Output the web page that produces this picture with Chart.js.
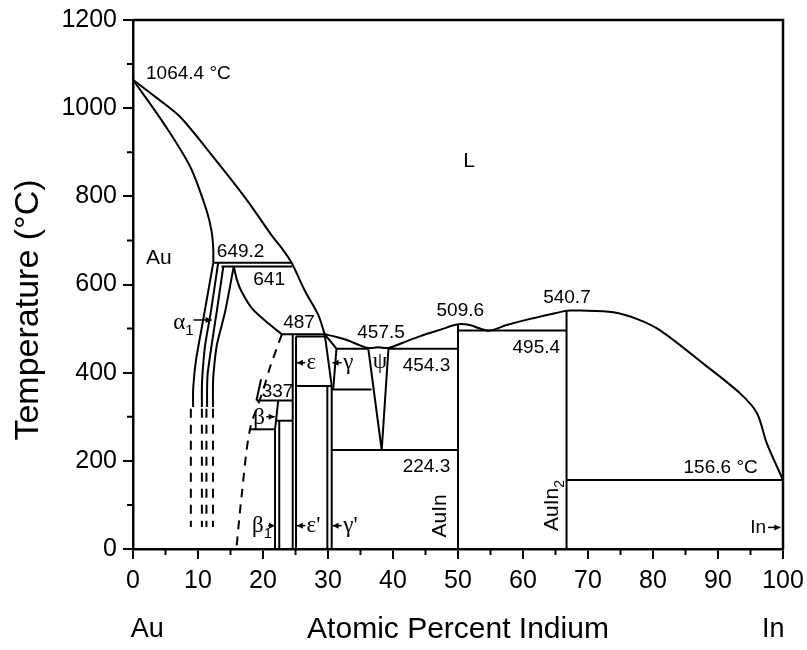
<!DOCTYPE html>
<html>
<head>
<meta charset="utf-8">
<title>Au-In phase diagram</title>
<script src="https://cdn.jsdelivr.net/npm/chart.js@4.4.0/dist/chart.umd.min.js"></script>
<style>
  html, body { margin: 0; padding: 0; background: #fff; }
  #wrap { width: 807px; height: 650px; }
</style>
</head>
<body>
<div id="wrap"><canvas id="phaseChart" width="807" height="650"></canvas></div>
<script>
// all points are [at.% In, temperature °C]
const liquidusAu = [[0,1064.4],[3.5,1025],[7.2,981],[12.3,890],[17.5,792],[21.3,712],[23.1,678],[24.4,649.2],[26.5,584],[28.5,531],[29.5,487]];
const liquidusMid = [[29.5,487],[31.3,481],[32.9,474],[34.4,465],[36.2,456],[37.7,457.5],[39.3,456],[41.5,468],[44.2,483],[47.2,497],[50,509.6],[51.8,508],[53.6,499],[54.9,495.4],[57.5,508],[61.1,522],[66.7,540.7]];
const liquidusIn = [[66.7,540.7],[68.8,541],[73.9,537],[77.5,522],[81.1,496],[87.7,421],[93.4,353],[96,308],[97.5,240],[100,156.6]];
const solidusAu = [[0,1064.4],[4.7,966],[8.8,867],[11.3,769],[12.1,720],[12.35,680],[12.35,649.2]];

const alphaLine1 = [[12.35,649.2],[10.8,520],[9.7,429],[9.25,361],[9.25,322]];
const alphaLine2 = [[13.1,649.2],[12.0,540],[11.1,463],[10.7,400],[10.6,367],[10.6,322]];
const alphaLine3 = [[13.9,641],[12.9,540],[12.1,463],[11.5,400],[11.4,367],[11.4,322]];
const alphaLine4 = [[15.5,641],[14.2,540],[12.9,463],[12.4,400],[12.3,367],[12.3,322]];
const alphaDashed = [[[8.9,318],[8.9,50]],[[10.6,318],[10.6,50]],[[11.3,318],[11.3,50]],[[12.3,318],[12.3,50]]];
const alphaBetaCurve = [[15.5,641],[16.0,610],[16.7,584],[18.3,546],[20.8,512],[22.9,487]];
const betaSolvus = [[22.9,487],[21.1,413],[20.05,361],[18.0,271.5],[16.7,119],[15.9,0]];

const isotherms = [
  [[12.35,649.2],[24.4,649.2]],
  [[13.6,641],[24.5,641]],
  [[22.9,487],[29.5,487]],
  [[25.08,482],[29.6,482]],
  [[19.0,337],[24.57,337]],
  [[22.0,291],[24.57,291]],
  [[18.0,271.5],[21.85,271.5]],
  [[25.08,370],[30.57,370]],
  [[31.3,454.3],[36.2,454.3]],
  [[30.57,362],[36.7,362]],
  [[39.3,454.3],[50,454.3]],
  [[30.57,224.3],[50,224.3]],
  [[50,495.4],[66.7,495.4]],
  [[66.7,156.6],[100,156.6]]
];
const compounds = [
  [[21.85,271.5],[21.85,0]],
  [[22.5,291],[22.5,0]],
  [[24.57,487],[24.57,0]],
  [[25.08,482],[25.08,0]],
  [[29.9,370],[29.9,0]],
  [[30.57,370],[30.57,0]],
  [[50,509.6],[50,0]],
  [[66.7,540.7],[66.7,0]]
];
const otherBounds = [
  [[19.0,337],[19.7,385]],
  [[22.35,337],[21.85,271.5]],
  [[29.5,487],[30.57,370]],
  [[29.5,487],[31.3,454.3]],
  [[31.3,454.3],[30.8,362]],
  [[36.2,454.3],[38.26,224.3],[39.3,454.3]]
];

// axis ticks: labelled majors, unlabelled minors
const xMinorTicks = [5, 15, 25, 35, 45, 55, 65, 75, 85, 95];
const yMinorTicks = [100, 300, 500, 700, 900, 1100];

// text on the diagram
const valueLabels = [
  ['1064.4 °C', 2.0, 1077, 'left'],
  ['649.2', 12.9, 674, 'left'],
  ['641', 18.5, 610, 'left'],
  ['487', 23.1, 513, 'left'],
  ['337', 19.8, 357, 'left'],
  ['457.5', 34.5, 490, 'left'],
  ['454.3', 48.8, 415, 'right'],
  ['224.3', 48.8, 186, 'right'],
  ['509.6', 46.7, 540, 'left'],
  ['540.7', 63.1, 570, 'left'],
  ['495.4', 65.7, 456, 'right'],
  ['156.6 °C', 84.7, 185, 'left'],
  ['In', 97.4, 49, 'right']
];
const phaseLabels = [
  ['L', 50.8, 880],
  ['Au', 2.0, 660]
];
const greekLabels = [
  ['α', '1', 6.2, 512],
  ['β', '', 18.5, 298],
  ['β', '1', 18.3, 52],
  ['ε', '', 26.7, 423],
  ['γ', '', 32.35, 423],
  ['ε\'', '', 26.7, 52],
  ['γ\'', '', 32.35, 52],
  ['ψ', '', 36.9, 424]
];
const arrows = [
  [9.3, 519.5, 12.1, 519.5],
  [20.5, 300, 21.8, 300],
  [20.8, 53, 21.85, 53],
  [26.5, 422.6, 25.2, 422.6],
  [32.1, 422.6, 30.7, 422.6],
  [26.5, 53, 25.2, 53],
  [32.1, 53, 30.7, 53],
  [97.7, 49, 99.6, 49]
];
const compoundLabels = [
  ['AuIn', '', 47.2, 75],
  ['AuIn', '2', 64.5, 90]
];

const SANS = '"Liberation Sans", Arial, sans-serif';
const SERIF = '"Liberation Serif", "DejaVu Serif", serif';

function lineSet(points, opts) {
  opts = opts || {};
  return {
    data: points.map(p => ({ x: p[0], y: p[1] })),
    showLine: true,
    borderColor: '#000',
    borderWidth: opts.width || 2,
    borderDash: opts.dash || [],
    pointRadius: 0,
    fill: false,
    tension: opts.tension || 0,
    clip: 4
  };
}

const datasets = [];
[liquidusAu, liquidusMid, liquidusIn, solidusAu, alphaBetaCurve].forEach(d => datasets.push(lineSet(d, { tension: 0.3 })));
[alphaLine1, alphaLine2, alphaLine3, alphaLine4].forEach(d => datasets.push(lineSet(d, { tension: 0.2 })));
alphaDashed.forEach(d => datasets.push(lineSet(d, { dash: [9, 7] })));
datasets.push(lineSet(betaSolvus, { dash: [9, 7], tension: 0.3 }));
isotherms.forEach(d => datasets.push(lineSet(d)));
compounds.forEach(d => datasets.push(lineSet(d)));
otherBounds.forEach(d => datasets.push(lineSet(d)));

const overlayPlugin = {
  id: 'overlay',
  afterDraw(chart) {
    const ctx = chart.ctx;
    const xs = chart.scales.x, ys = chart.scales.y;
    const area = chart.chartArea;
    const px = v => xs.getPixelForValue(v);
    const py = v => ys.getPixelForValue(v);

    ctx.save();
    ctx.strokeStyle = '#000';
    ctx.fillStyle = '#000';
    ctx.lineWidth = 2.5;
    ctx.beginPath();
    ctx.moveTo(area.left, area.top);
    ctx.lineTo(area.right, area.top);
    ctx.lineTo(area.right, area.bottom);
    ctx.stroke();

    // minor ticks
    ctx.lineWidth = 2;
    ctx.beginPath();
    xMinorTicks.forEach(v => { ctx.moveTo(px(v), area.bottom); ctx.lineTo(px(v), area.bottom + 6); });
    yMinorTicks.forEach(v => { ctx.moveTo(area.left, py(v)); ctx.lineTo(area.left - 6, py(v)); });
    ctx.stroke();

    ctx.textBaseline = 'middle';
    ctx.font = '19px ' + SANS;
    valueLabels.forEach(l => {
      ctx.textAlign = l[3];
      ctx.fillText(l[0], px(l[1]), py(l[2]));
    });
    ctx.font = '21px ' + SANS;
    ctx.textAlign = 'left';
    phaseLabels.forEach(l => ctx.fillText(l[0], px(l[1]), py(l[2])));

    greekLabels.forEach(l => {
      const x = px(l[2]), y = py(l[3]);
      ctx.font = '23px ' + SERIF;
      ctx.fillText(l[0], x, y);
      if (l[1]) {
        const w = ctx.measureText(l[0]).width;
        ctx.font = '15px ' + SANS;
        ctx.fillText(l[1], x + w, y + 8);
      }
    });

    ctx.lineWidth = 1.5;
    arrows.forEach(a => {
      const x1 = px(a[0]), y1 = py(a[1]), x2 = px(a[2]), y2 = py(a[3]);
      const ang = Math.atan2(y2 - y1, x2 - x1);
      ctx.beginPath();
      ctx.moveTo(x1, y1);
      ctx.lineTo(x2, y2);
      ctx.stroke();
      ctx.beginPath();
      ctx.moveTo(x2, y2);
      ctx.lineTo(x2 - 6 * Math.cos(ang) + 3 * Math.sin(ang), y2 - 6 * Math.sin(ang) - 3 * Math.cos(ang));
      ctx.lineTo(x2 - 6 * Math.cos(ang) - 3 * Math.sin(ang), y2 - 6 * Math.sin(ang) + 3 * Math.cos(ang));
      ctx.closePath();
      ctx.fill();
    });

    compoundLabels.forEach(l => {
      ctx.save();
      ctx.translate(px(l[2]), py(l[3]));
      ctx.rotate(-Math.PI / 2);
      ctx.font = '21px ' + SANS;
      ctx.textAlign = 'center';
      const w = ctx.measureText(l[0]).width;
      ctx.fillText(l[0], 0, 0);
      if (l[1]) {
        ctx.font = '14px ' + SANS;
        ctx.textAlign = 'left';
        ctx.fillText(l[1], w / 2, 8);
      }
      ctx.restore();
    });

    // axis titles
    ctx.font = '30px ' + SANS;
    ctx.textAlign = 'center';
    ctx.fillText('Atomic Percent Indium', (area.left + area.right) / 2, 630);
    ctx.font = '27px ' + SANS;
    ctx.fillText('Au', px(2.2), 630);
    ctx.fillText('In', px(98.5), 630);

    ctx.save();
    ctx.translate(29, 310);
    ctx.rotate(-Math.PI / 2);
    ctx.font = '34px ' + SANS;
    ctx.fillText('Temperature (°C)', 0, 0);
    ctx.restore();

    ctx.restore();
  }
};

const tickFont = { family: SANS, size: 25 };

new Chart(document.getElementById('phaseChart').getContext('2d'), {
  type: 'scatter',
  data: { datasets: datasets },
  options: {
    responsive: false,
    animation: false,
    layout: { padding: { top: 20, right: 24, left: 0, bottom: 0 } },
    plugins: { legend: { display: false }, tooltip: { enabled: false } },
    scales: {
      x: {
        type: 'linear', min: 0, max: 100,
        afterFit(scale) { scale.height = 101; scale.paddingLeft = 0; scale.paddingRight = 0; },
        border: { display: true, color: '#000', width: 2.5 },
        grid: { drawOnChartArea: false, drawTicks: true, tickLength: 10, color: '#000', lineWidth: 2 },
        ticks: { stepSize: 10, autoSkip: false, maxRotation: 0, color: '#000', font: tickFont, padding: 7,
          callback: v => String(v) }
      },
      y: {
        type: 'linear', min: 0, max: 1200,
        afterFit(scale) { scale.width = 133; scale.paddingTop = 0; scale.paddingBottom = 0; },
        border: { display: true, color: '#000', width: 2.5 },
        grid: { drawOnChartArea: false, drawTicks: true, tickLength: 10, color: '#000', lineWidth: 2 },
        ticks: { stepSize: 200, autoSkip: false, color: '#000', font: tickFont, padding: 6,
          callback: v => String(v) }
      }
    }
  },
  plugins: [overlayPlugin]
});
</script>
</body>
</html>
